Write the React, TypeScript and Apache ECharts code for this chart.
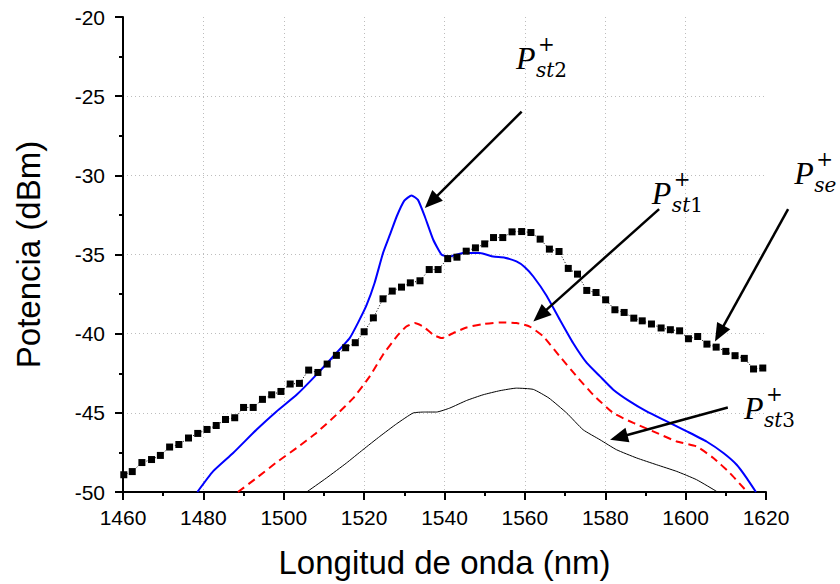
import React, { useEffect, useRef } from "react";
import * as echarts from "echarts";

// P+se (black squares)
const seWavelength = [
  1460.2, 1462.3, 1464.7, 1467.1, 1469.3, 1471.6, 1473.9, 1476.3, 1478.6, 1480.9,
  1483.2, 1485.5, 1487.8, 1490.0, 1492.4, 1494.7, 1497.0, 1499.3, 1501.6, 1503.9,
  1506.2, 1508.5, 1510.8, 1513.1, 1515.4, 1517.8, 1520.0, 1522.3, 1524.7, 1527.0,
  1529.3, 1531.5, 1533.9, 1536.2, 1538.4, 1540.8, 1543.1, 1545.4, 1547.7, 1550.0,
  1552.2, 1554.5, 1556.8, 1559.2, 1561.5, 1563.8, 1566.1, 1568.5, 1570.8, 1573.1,
  1575.4, 1577.7, 1580.1, 1582.4, 1584.7, 1587.1, 1589.2, 1591.5, 1593.9, 1596.2,
  1598.5, 1600.7, 1603.0, 1605.3, 1607.6, 1610.0, 1612.3, 1614.6, 1616.9, 1619.2,
];
const sePower = [
  -48.91, -48.71, -48.14, -47.95, -47.69, -47.16, -47.0, -46.59, -46.3, -46.05,
  -45.8, -45.42, -45.31, -44.66, -44.66, -44.15, -43.86, -43.65, -43.18, -43.14,
  -42.3, -42.45, -41.92, -41.37, -40.89, -40.57, -39.88, -39.0, -37.8, -37.31,
  -37.06, -36.79, -36.66, -35.95, -35.95, -35.26, -35.17, -34.79, -34.58, -34.33,
  -33.93, -33.93, -33.57, -33.55, -33.61, -34.03, -34.66, -34.81, -35.88, -36.24,
  -37.27, -37.4, -37.86, -38.49, -38.66, -39.02, -39.19, -39.39, -39.64, -39.75,
  -39.82, -40.32, -40.18, -40.66, -40.85, -41.12, -41.39, -41.56, -42.23, -42.17,
];

// P+st2 (blue)
const st2Wavelength = [
  1478.5, 1482.4, 1487.4, 1493.2, 1498.2, 1503.2, 1508.1, 1512.3, 1516.4, 1518.5,
  1520.6, 1522.6, 1524.7, 1526.5, 1528.1, 1530.0, 1531.8, 1533.4, 1535.1, 1537.2,
  1539.3, 1541.3, 1544.6, 1548.8, 1552.1, 1555.0, 1557.9, 1560.0, 1562.1, 1565.4,
  1568.7, 1572.0, 1575.4, 1578.7, 1582.0, 1586.1, 1590.3, 1595.3, 1600.3, 1605.2,
  1609.4, 1612.7, 1615.2, 1617.5,
];
const st2Power = [
  -50, -48.7, -47.54, -46.07, -44.91, -43.86, -42.6, -41.44, -40.28, -39.3,
  -38.2, -36.8, -34.91, -33.7, -32.6, -31.6, -31.27, -31.55, -32.6, -34.07,
  -35.02, -35.13, -34.91, -34.91, -35.13, -35.2, -35.44, -35.8, -36.39, -37.6,
  -39.12, -40.59, -41.85, -42.7, -43.54, -44.28, -44.91, -45.54, -46.17, -46.81,
  -47.54, -48.28, -49.12, -50,
];

// P+st1 (red dashed)
const st1Wavelength = [
  1488.6, 1493.2, 1498.2, 1503.2, 1508.1, 1513.1, 1517.3, 1521.4, 1524.7, 1528.1,
  1530.5, 1532.6, 1534.7, 1537.2, 1539.3, 1542.2, 1545.5, 1549.6, 1553.8, 1557.9,
  1561.2, 1564.6, 1568.7, 1572.9, 1577.0, 1582.0, 1587.0, 1591.9, 1597.8, 1602.7,
  1606.9, 1611.0, 1615.2,
];
const st1Power = [
  -50, -49.12, -48.13, -47.22, -46.27, -45.12, -44.07, -42.7, -41.33, -40.18,
  -39.55, -39.33, -39.55, -40.07, -40.28, -39.96, -39.61, -39.39, -39.29, -39.33,
  -39.55, -40.18, -41.44, -42.7, -43.86, -45.01, -45.64, -46.17, -46.81, -47.12,
  -47.85, -48.8, -49.96,
];

// P+st3 (thin black)
const st3Wavelength = [
  1505.7, 1510.6, 1515.6, 1519.7, 1523.9, 1528.1, 1532.2, 1535.0, 1538.0, 1541.3,
  1545.5, 1549.6, 1553.8, 1557.9, 1562.1, 1566.0, 1570.4, 1574.5, 1578.7, 1582.8,
  1587.8, 1592.8, 1597.8, 1602.7, 1607.7,
];
const st3Power = [
  -50, -49.12, -48.17, -47.33, -46.49, -45.69, -45.01, -44.95, -44.95, -44.7,
  -44.22, -43.86, -43.6, -43.44, -43.52, -44.07, -45.01, -46.07, -46.7, -47.33,
  -47.85, -48.28, -48.7, -49.22, -49.96,
];

// Annotations (data coordinates)
const annotationSubs = ["st2", "st1", "se", "st3"];
const labelAnchorX = [1557.8, 1591.6, 1627.0, 1614.5];
const labelAnchorY = [-21.95, -30.47, -29.21, -44.05];
const arrowFromX = [1559.2, 1593.4, 1625.5, 1610.5];
const arrowFromY = [-25.97, -32.13, -32.13, -44.66];
const arrowToX = [1535.1, 1562.1, 1607.3, 1581.2];
const arrowToY = [-32.07, -39.23, -40.49, -46.7];

const zip = (xs: number[], ys: number[]) => xs.map((x, i) => [x, ys[i]]);

export default function App() {
  const ref = useRef<HTMLDivElement>(null);
  useEffect(() => {
    const chart = echarts.init(ref.current!, null, { renderer: "svg" });
    const font = "'Liberation Sans', Arial, sans-serif";
    const mathFont = "'DejaVu Serif', serif";
    const pFont = "'Liberation Serif', 'Times New Roman', serif";
    const axisCommon = {
      type: "value",
      nameLocation: "middle",
      nameTextStyle: { fontSize: 33, color: "#000", fontFamily: font },
      axisLine: { show: true, onZero: false, lineStyle: { color: "#000", width: 2 } },
      axisTick: { show: true, inside: false, length: 8, lineStyle: { color: "#000", width: 2 } },
      minorTick: { show: true, splitNumber: 2, length: 4, lineStyle: { color: "#000", width: 2 } },
      axisLabel: { fontSize: 21, color: "#000", fontFamily: font, formatter: (v: number) => String(v) },
      splitLine: {
        show: true,
        showMinLine: false,
        showMaxLine: false,
        lineStyle: { color: "#bdbdbd", type: [1, 3], width: 1 },
      },
    };
    chart.setOption({
      animation: false,
      backgroundColor: "#ffffff",
      grid: { left: 123, right: 74, top: 17, bottom: 92, containLabel: false },
      xAxis: {
        ...axisCommon,
        min: 1460,
        max: 1620,
        interval: 20,
        name: "Longitud de onda (nm)",
        nameGap: 54,
        axisLabel: { ...axisCommon.axisLabel, margin: 15 },
      },
      yAxis: {
        ...axisCommon,
        min: -50,
        max: -20,
        interval: 5,
        name: "Potencia (dBm)",
        nameGap: 78,
        axisLabel: { ...axisCommon.axisLabel, margin: 18 },
      },
      series: [
        {
          name: "P+se",
          type: "line",
          data: zip(seWavelength, sePower),
          symbol: "rect",
          symbolSize: 7,
          showAllSymbol: true,
          itemStyle: { color: "#000" },
          lineStyle: { color: "#000", width: 1, type: [1, 2] },
        },
        {
          name: "P+st3",
          type: "line",
          data: zip(st3Wavelength, st3Power),
          showSymbol: false,
          smooth: 0.15,
          lineStyle: { color: "#000", width: 1 },
        },
        {
          name: "P+st1",
          type: "line",
          data: zip(st1Wavelength, st1Power),
          showSymbol: false,
          smooth: 0.15,
          lineStyle: { color: "#ff0000", width: 2, type: [8, 5] },
        },
        {
          name: "P+st2",
          type: "line",
          data: zip(st2Wavelength, st2Power),
          showSymbol: false,
          smooth: 0.15,
          lineStyle: { color: "#0000ff", width: 2 },
        },
      ],
    });

    const toPx = (x: number, y: number) =>
      chart.convertToPixel({ gridIndex: 0 }, [x, y]) as number[];
    const graphics: any[] = [];
    annotationSubs.forEach((sub, i) => {
      const p0 = toPx(arrowFromX[i], arrowFromY[i]);
      const p1 = toPx(arrowToX[i], arrowToY[i]);
      const dx = p1[0] - p0[0];
      const dy = p1[1] - p0[1];
      const len = Math.hypot(dx, dy);
      const ux = dx / len;
      const uy = dy / len;
      const L = 18;
      const W = 7.5;
      const bx = p1[0] - ux * L;
      const by = p1[1] - uy * L;
      graphics.push({
        type: "line",
        shape: { x1: p0[0], y1: p0[1], x2: bx + ux * 2, y2: by + uy * 2 },
        style: { stroke: "#000", lineWidth: 2.5 },
        z: 100,
      });
      graphics.push({
        type: "polygon",
        shape: {
          points: [
            [p1[0], p1[1]],
            [bx - uy * W, by + ux * W],
            [bx + uy * W, by - ux * W],
          ],
        },
        style: { fill: "#000" },
        z: 100,
      });
      const a = toPx(labelAnchorX[i], labelAnchorY[i]);
      const digit = sub.replace(/[a-z]/g, "");
      const letters = sub.replace(/[0-9]/g, "");
      graphics.push({
        type: "text",
        x: a[0],
        y: a[1] + 10.5,
        z: 100,
        style: {
          text: "P",
          fill: "#000",
          font: `italic 32px ${pFont}`,
          align: "left",
          verticalAlign: "middle",
          textAlign: "left",
          textVerticalAlign: "middle",
        },
      });
      graphics.push({
        type: "text",
        x: a[0] + 22,
        y: a[1] - 4,
        z: 100,
        style: {
          text: "+",
          fill: "#000",
          font: `20px ${mathFont}`,
          align: "left",
          verticalAlign: "middle",
          textAlign: "left",
          textVerticalAlign: "middle",
        },
      });
      graphics.push({
        type: "text",
        x: a[0] + 20,
        y: a[1] + 22,
        z: 100,
        style: {
          text: digit ? `{i|${letters}}{n|${digit}}` : `{i|${letters}}`,
          fill: "#000",
          align: "left",
          verticalAlign: "middle",
          textAlign: "left",
          textVerticalAlign: "middle",
          rich: {
            i: { fontFamily: mathFont, fontStyle: "italic", fontSize: 20, fill: "#000", color: "#000" },
            n: { fontFamily: mathFont, fontSize: 20, fill: "#000", color: "#000" },
          },
        },
      });
    });
    chart.setOption({ graphic: graphics });

    return () => chart.dispose();
  }, []);
  return (
    <div
      ref={ref}
      style={{ position: "fixed", left: 0, top: 0, width: 840, height: 584 }}
    />
  );
}
